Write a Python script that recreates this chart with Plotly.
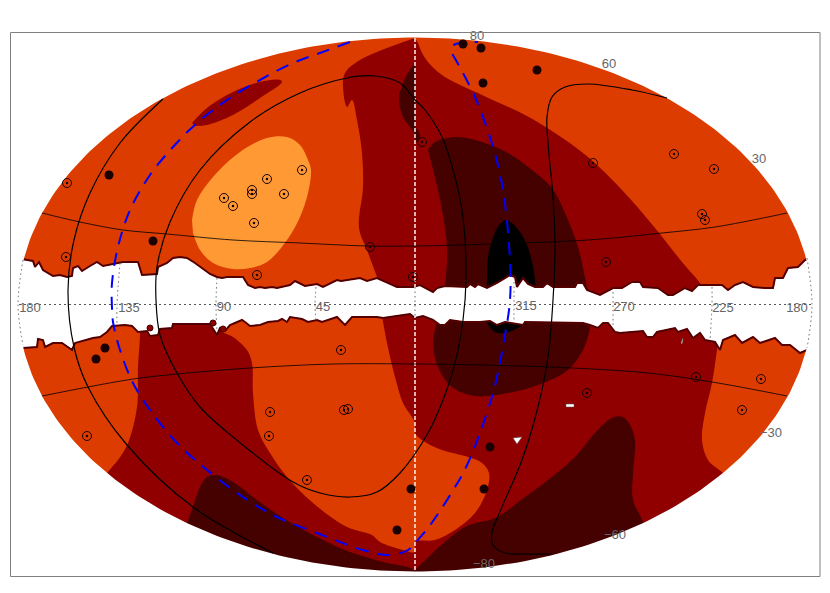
import numpy as np
import plotly.graph_objects as go

ORANGE, LIGHT, RED, DARK, BLACK = "#DD3C00", "#FF9933", "#900000", "#450000", "#000000"

# Contour regions (sky-plane coordinates)
north_red = [(415,38),(360,60),(345,73),(343,87),(347,107),(352,100),(357,120),(362,153),(363,187),(359,228),(367,250),(377,277),(385,300),
             (710,300),(700,283),(682,262),(655,228),(622,190),(588,157),(555,133),(525,115),(482,95),(442,75),(425,58),(418,43)]
patch_red = [(192,123),(207,108),(233,92),(260,82),(280,80),(282,82),(260,98),(233,115),(207,125),(195,126)]
north_dark_small = [(415,63),(408,73),(403,83),(399,98),(403,117),(410,127),(415,134)]
north_dark_tip = [(415,127),(419,132),(420,137),(415,143)]
north_dark = [(428,150),(435,142),(457,137),(482,142),(508,153),(532,170),(552,188),(565,213),(578,247),(587,287),(590,300),(443,300),(445,287),(447,247),(442,210),(435,177)]
north_black = [(487,300),(487,287),(488,257),(494,235),(500,224),(506,220),(512,223),(520,232),(527,245),(532,262),(536,287),(537,300)]
north_light = [(192,220),(197,200),(213,177),(240,152),(267,138),(287,137),(300,145),(308,160),(311,170),(308,193),(300,217),(287,240),(267,262),(250,268),(233,269),(213,263),(200,250),(193,233)]
south_red = [(140,310),(140,335),(138,367),(137,407),(128,443),(118,460),(107,473),(90,500),(90,585),(740,585),(740,490),(723,473),(708,460),(702,440),(705,413),(712,383),(717,350),(722,310)]
south_orange = [(215,310),(220,330),(233,337),(247,350),(252,363),(253,393),(258,430),(270,453),(287,477),(313,503),(347,527),(372,535),(380,542),(403,550),(415,552),(415,542),
                (435,540),(455,530),(475,513),(487,490),(489,473),(482,463),(468,457),(442,450),(425,442),(415,433),(415,423),(403,403),(395,377),(387,343),(382,317),(380,310)]
south_dark_left = [(187,523),(193,507),(200,487),(207,477),(217,475),(233,482),(257,500),(283,518),(317,537),(350,552),(383,562),(415,571),(415,585),(170,585)]
south_dark_right = [(415,570),(465,527),(495,518),(525,497),(548,480),(575,457),(595,433),(612,418),(623,417),(630,425),(635,440),(633,473),(633,500),(643,522),(660,585),(415,585)]
south_dark_mid = [(437,310),(437,320),(433,343),(438,367),(452,387),(475,396),(508,393),(538,385),(568,370),(583,350),(590,328),(592,310)]
south_black = [(487,310),(487,322),(495,332),(505,333),(518,328),(528,322),(529,310)]

# Galactic-plane mask edges
band_top = [(10,257),(23,259),(33,261),(35,267),(39,262),(43,270),(53,276),(60,275),(67,277),(72,276),(73,268),(78,266),(82,271),(90,266),(97,262),(103,266),(113,264),(123,262),(138,262),(142,275),(157,274),(158,267),(167,263),(173,258),(180,257),(187,258),(195,263),(210,274),(217,277),(222,278),(227,277),(243,277),(248,285),(255,288),(260,287),(265,288),(272,287),(277,288),(290,285),(295,281),(305,286),(317,284),(323,287),(327,285),(337,280),(341,281),(357,279),(360,278),(367,281),(377,278),(397,287),(413,287),(420,285),(433,292),(437,288),(445,286),(467,287),(470,284),(475,287),(478,284),(487,288),(497,283),(510,275),(515,277),(517,287),(523,278),(528,284),(535,287),(543,287),(547,283),(553,287),(575,287),(577,283),(583,283),(587,290),(600,295),(613,288),(622,288),(632,282),(640,282),(643,287),(658,288),(668,295),(673,295),(685,288),(692,291),(698,285),(713,285),(722,285),(728,290),(735,285),(743,282),(753,287),(765,288),(773,288),(775,278),(783,278),(788,268),(798,267),(805,260),(820,257)]
band_bottom = [(820,348),(807,350),(800,353),(790,345),(782,345),(775,338),(760,343),(753,337),(742,343),(735,335),(723,340),(720,350),(715,342),(705,340),(700,333),(693,338),(687,329),(678,332),(675,328),(657,332),(653,337),(647,337),(643,331),(620,333),(615,332),(608,323),(603,323),(598,328),(590,325),(583,323),(525,322),(523,325),(505,322),(497,325),(490,321),(480,322),(463,322),(450,320),(445,325),(440,325),(433,320),(423,316),(415,318),(410,314),(383,318),(377,317),(352,317),(345,325),(337,317),(322,322),(317,320),(308,322),(302,319),(290,317),(287,322),(282,319),(278,321),(268,322),(260,325),(250,326),(245,322),(242,320),(230,325),(225,331),(220,328),(217,335),(210,324),(173,324),(172,328),(160,329),(158,335),(150,336),(147,331),(138,332),(132,326),(125,325),(112,326),(107,332),(100,337),(93,338),(75,343),(72,350),(62,343),(53,343),(45,347),(43,340),(38,339),(37,347),(23,348),(10,349)]
hole_a = [(566,404),(574,404),(574,407),(566,407)]
hole_b = [(513,438),(522,437),(517,444)]
hole_c = [(681,343),(683,338),(683,340),(682,344)]
blobs_x, blobs_y = [150, 213, 223], [328, 323, 329]

# Curves
curve_outer = [(163,99),(120,143),(90,193),(74,240),(68,290),(74,347),(88,387),(127,445),(193,507),(273,553)]
curve_inner = [(415,100),(400,83),(375,76),(347,78),(300,93),(250,122),(200,170),(170,222),(157,267),(156,300),(160,335),(177,373),(200,407),(233,437),(293,482),(320,493),(350,497),(377,492),(400,473),(428,433),(443,400),(455,363),(463,320),(466,280),(463,217),(455,177),(442,137),(425,110),(415,100)]
curve_right = [(667,98),(632,90),(588,84),(565,87),(552,97),(547,117),(548,143),(553,197),(555,247),(553,300),(548,357),(538,407),(522,460),(502,507),(492,533),(493,545),(505,553),(525,554),(552,554)]
parallel_n = [(42,213),(80,222),(123,230),(167,234),(233,240),(300,243),(367,246),(415,246),(492,244),(588,240),(662,233),(715,227),(787,213)]
parallel_s = [(42,396),(88,387),(133,379),(177,374),(250,368),(333,364),(415,364),(482,365),(572,368),(648,373),(712,382),(787,396)]
curve_blue = [(350,42),(320,53),(293,63),(260,80),(227,100),(197,123),(173,147),(150,175),(130,210),(118,247),(112,283),(112,308),(113,322),(120,350),(133,383),(150,410),(177,443),(207,470),(243,497),(277,517),(317,533),(363,550),(390,555),(408,550),(415,543),(428,528),(452,492),(468,463),(493,393),(505,335),(510,300),(510,260),(503,190),(493,147),(475,97),(457,62),(452,52),(454,45),(462,43),(478,42)]

# Graticule
meridians = [[(23,260),(18,305),(23,345)],[(120,263),(117,305),(117,325)],[(217,278),(216,305),(217,332)],[(316,287),(315,305),(316,320)],
             [(415,287),(415,317)],[(514,282),(514,305),(514,322)],[(613,292),(613,305),(613,328)],[(712,287),(712,305),(710,340)],[(807,258),(812,305),(807,348)]]
equator = [(19,304.5),(811,304.5)]
centre_line = [(415,38),(415,571)]

# Sources
filled = [(109,175),(153,241),(105,348),(96,359),(463,44),(481,48),(537,70),(483,83),(490,447),(484,489),(411,489),(397,530)]
ringed = [(67,183),(66,257),(224,198),(233,206),(252,190),(252,194),(267,179),(284,194),(302,170),(254,223),(257,275),(370,247),(413,277),(422,142),(593,163),(674,154),(714,169),(702,214),(705,220),(606,262),(87,436),(341,350),(270,412),(269,436),(307,480),(344,410),(348,409),(587,393),(696,377),(761,379),(742,410)]

# Labels
labels = ["180","135","90","45","315","270","225","180","80","60","30","\u221230","\u221260","\u221280"]
labels_x = [30,129,224,323,526,624,723,797,477,609,759,771,615,484]
labels_y = [309,309,308,308,307,308,309,309,37,65,160,434,536,565]

fig = go.Figure()

def xy(p):
    return [a for a, _ in p], [b for _, b in p]

def region(p, color, shape="spline"):
    x, y = xy(p)
    fig.add_trace(go.Scatter(x=x, y=y, mode="lines", fill="toself", fillcolor=color,
                             line=dict(width=0, color=color, shape=shape, smoothing=1.0), hoverinfo="skip"))

def curve(p, color="black", width=1.2, dash="solid", shape="spline"):
    x, y = xy(p)
    fig.add_trace(go.Scatter(x=x, y=y, mode="lines", line=dict(color=color, width=width, dash=dash, shape=shape, smoothing=1.0), hoverinfo="skip"))

region([(14,34),(816,34),(816,575),(14,575)], ORANGE, "linear")
region(north_red, RED)
region(patch_red, RED)
region(north_dark, DARK)
region(north_dark_small, DARK)
region(north_dark_tip, DARK)
region(north_black, BLACK)
region(north_light, LIGHT)
region(south_red, RED)
region(south_orange, ORANGE)
region(south_dark_left, DARK)
region(south_dark_right, DARK)
region(south_dark_mid, DARK)
region(south_black, BLACK)

# Galactic-plane gap
bx, by = xy(band_top + band_bottom)
fig.add_trace(go.Scatter(x=bx + bx[:1], y=by + by[:1], mode="lines", fill="toself", fillcolor="white",
                         line=dict(color="#6b0000", width=2), hoverinfo="skip"))
fig.add_trace(go.Scatter(x=bx + bx[:1], y=by + by[:1], mode="lines", line=dict(color="#350000", width=0.8), hoverinfo="skip"))
fig.add_trace(go.Scatter(x=blobs_x, y=blobs_y, mode="markers", marker=dict(size=6, color=RED, line=dict(color="#400000", width=1)), hoverinfo="skip"))
for h in (hole_a, hole_b, hole_c):
    hx, hy = xy(h)
    fig.add_trace(go.Scatter(x=hx + hx[:1], y=hy + hy[:1], mode="lines", fill="toself", fillcolor="white", line=dict(color="#555555", width=0.5), hoverinfo="skip"))

# Everything outside the sky ellipse is blank
t = np.linspace(np.pi, 3 * np.pi, 361)
ex = (415 + 397 * np.cos(t)).tolist()
ey = (304.5 + 267 * np.sin(t)).tolist()
fig.add_trace(go.Scatter(x=ex + [0, 0, 830, 830, 0, 0, ex[0]], y=ey + [304.5, 593, 593, 0, 0, 304.5, ey[0]], mode="lines",
                         fill="toself", fillcolor="white", line=dict(width=0, color="white"), hoverinfo="skip"))

curve(centre_line, "white", 1.4, "4px,2px", "linear")
curve(equator, "#555555", 1, "2px,3px", "linear")
for m in meridians:
    curve(m, "#666666", 1, "1.5px,3px")

curve(parallel_n, "black", 0.8)
curve(parallel_s, "black", 0.8)
curve(curve_outer)
curve(curve_inner)
curve(curve_right)
curve(curve_blue, "#0000FF", 2, "13px,9px")

rx, ry = xy(ringed)
fig.add_trace(go.Scatter(x=rx, y=ry, mode="markers", marker=dict(symbol="circle-open", size=9, color="#1a0000", line=dict(width=1, color="#1a0000")), hoverinfo="skip"))
fig.add_trace(go.Scatter(x=rx, y=ry, mode="markers", marker=dict(size=2.5, color="#1a0000", line=dict(width=0)), hoverinfo="skip"))
fx, fy = xy(filled)
fig.add_trace(go.Scatter(x=fx, y=fy, mode="markers", marker=dict(size=9, color="#1a0000", line=dict(width=0)), hoverinfo="skip"))

fig.add_trace(go.Scatter(x=labels_x, y=labels_y, mode="text", text=labels, textposition="middle center",
                         textfont=dict(family="Liberation Sans", size=13, color="#666666"), hoverinfo="skip"))

fig.update_layout(
    width=830, height=593, autosize=False, margin=dict(l=0, r=0, t=0, b=0),
    paper_bgcolor="white", plot_bgcolor="white", showlegend=False,
    xaxis=dict(range=[0, 830], visible=False, fixedrange=True),
    yaxis=dict(range=[593, 0], visible=False, fixedrange=True),
    shapes=[dict(type="rect", x0=10.5, x1=820, y0=32.5, y1=576.5, line=dict(color="#808080", width=1), fillcolor="rgba(0,0,0,0)")],
)

fig.write_html("out.html", config={"displayModeBar": False}, post_script="document.body.style.margin='0';")
